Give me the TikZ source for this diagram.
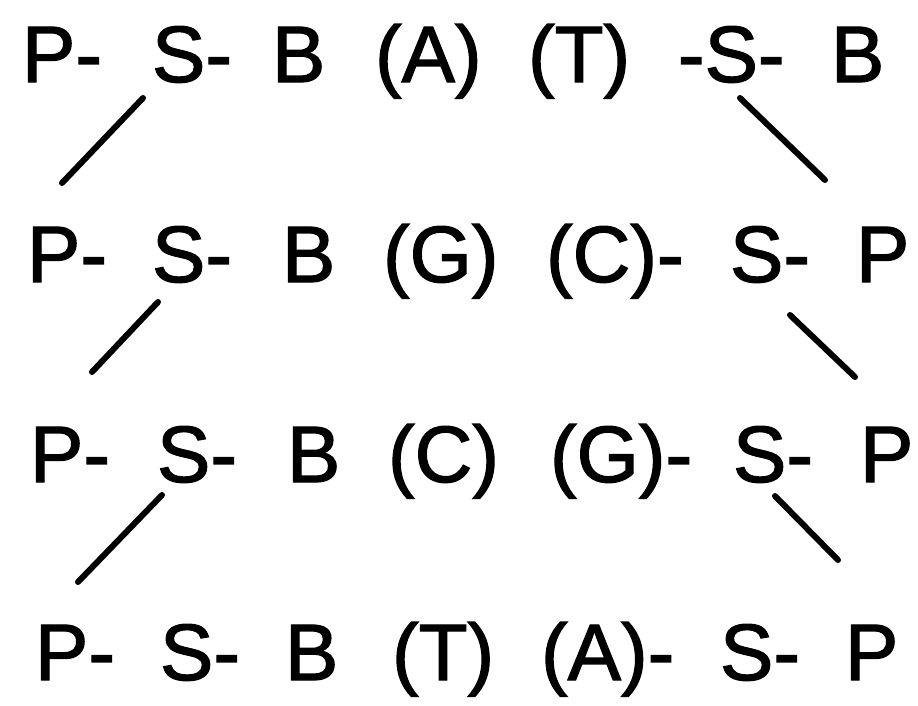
\documentclass[tikz,border=0pt]{standalone}
\usepackage{fontspec}
\setmainfont{Liberation Sans}
\newfontfamily\heavyfont{Liberation Sans}[FakeBold=1.6]
\begin{document}
\begin{tikzpicture}[x=1pt,y=-1pt,
  tok/.style={anchor=base west,inner sep=0pt,outer sep=0pt,font=\heavyfont\fontsize{80}{80}\selectfont},
  bond/.style={line width=6pt,line cap=round}]
\useasboundingbox (0,0) rectangle (918,705);
% row 1
\node[tok] (a1) at (22,82) {P-};
\node[tok] (a2) at (152,82) {S-};
\node[tok] (a3) at (272,82) {B};
\node[tok] (a4) at (375,82) {(A)};
\node[tok] (a5) at (528,82) {(T)};
\node[tok] (a6) at (678,82) {-S-};
\node[tok] (a7) at (831,82) {B};
% row 2
\node[tok] (b1) at (27,282) {P-};
\node[tok] (b2) at (152,282) {S-};
\node[tok] (b3) at (282,282) {B};
\node[tok] (b4) at (383,282) {(G)};
\node[tok] (b5) at (546,282) {(C)-};
\node[tok] (b6) at (730,282) {S-};
\node[tok] (b7) at (856,282) {P};
% row 3
\node[tok] (c1) at (30,482) {P-};
\node[tok] (c2) at (157,482) {S-};
\node[tok] (c3) at (287,482) {B};
\node[tok] (c4) at (388,482) {(C)};
\node[tok] (c5) at (550,482) {(G)-};
\node[tok] (c6) at (733,482) {S-};
\node[tok] (c7) at (860,482) {P};
% row 4
\node[tok] (d1) at (35,680) {P-};
\node[tok] (d2) at (160,680) {S-};
\node[tok] (d3) at (285,680) {B};
\node[tok] (d4) at (392,680) {(T)};
\node[tok] (d5) at (541,680) {(A)-};
\node[tok] (d6) at (720,680) {S-};
\node[tok] (d7) at (845,680) {P};
% bond end points
\coordinate (l1s) at (143,98);  \coordinate (l1e) at (62,183);
\coordinate (r1s) at (740,98);  \coordinate (r1e) at (825,180);
\coordinate (l2s) at (158,302); \coordinate (l2e) at (92,372);
\coordinate (r2s) at (790,315); \coordinate (r2e) at (855,377);
\coordinate (l3s) at (162,495); \coordinate (l3e) at (78,582);
\coordinate (r3s) at (775,496); \coordinate (r3e) at (838,560);
\draw[bond] (l1s) -- (l1e);
\draw[bond] (r1s) -- (r1e);
\draw[bond] (l2s) -- (l2e);
\draw[bond] (r2s) -- (r2e);
\draw[bond] (l3s) -- (l3e);
\draw[bond] (r3s) -- (r3e);
\end{tikzpicture}
\end{document}
